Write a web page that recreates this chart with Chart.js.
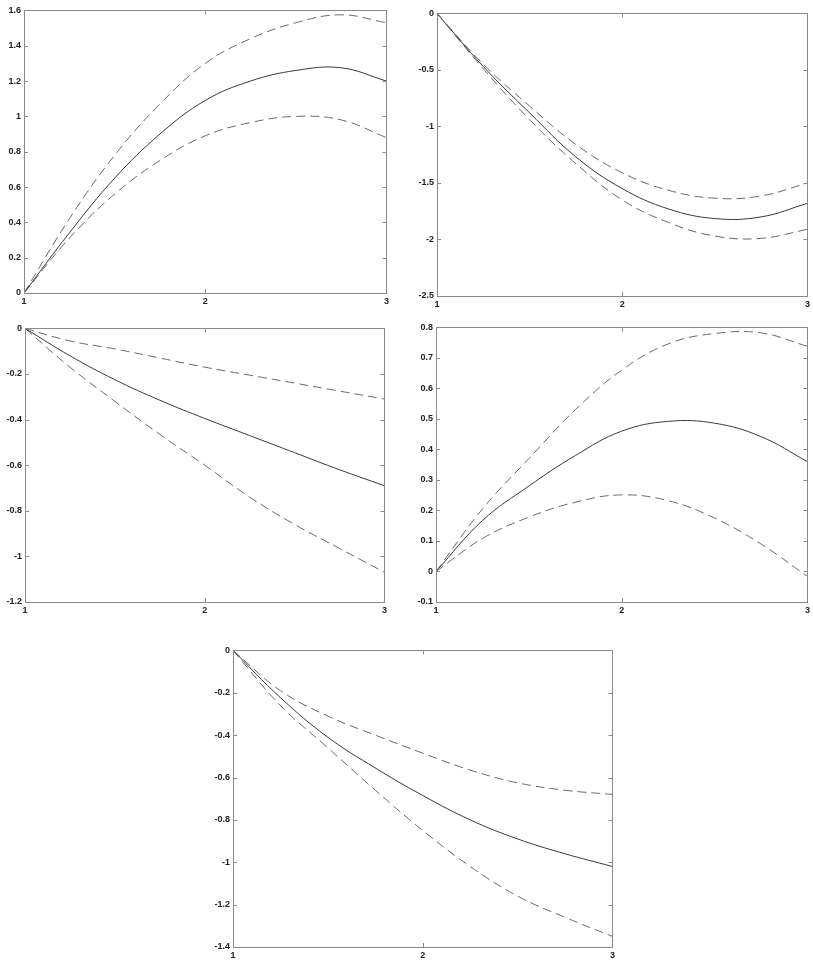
<!DOCTYPE html>
<html>
<head>
<meta charset="utf-8">
<script src="https://cdn.jsdelivr.net/npm/chart.js@4"></script>
<style>
  html, body { margin: 0; padding: 0; background: #fff; overflow: hidden; }
  body { width: 813px; height: 968px; position: relative; }
  .box { position: absolute; }
</style>
</head>
<body>
<div class="box" id="b1"><canvas id="c1"></canvas></div>
<div class="box" id="b2"><canvas id="c2"></canvas></div>
<div class="box" id="b3"><canvas id="c3"></canvas></div>
<div class="box" id="b4"><canvas id="c4"></canvas></div>
<div class="box" id="b5"><canvas id="c5"></canvas></div>
<script>
// x samples shared by every panel
const xs = [1, 1.25, 1.5, 1.75, 2, 2.25, 2.5, 2.75, 3];
const xTicks = [1, 2, 3];

// panel 1 (top left)
const p1Mid = [0, 0.34, 0.65, 0.90, 1.09, 1.20, 1.26, 1.275, 1.20];
const p1Up  = [0, 0.42, 0.78, 1.07, 1.30, 1.44, 1.53, 1.575, 1.53];
const p1Low = [0, 0.31, 0.56, 0.75, 0.89, 0.965, 1.00, 0.98, 0.88];

// panel 2 (top right)
const p2Mid = [0, -0.47, -0.88, -1.27, -1.55, -1.73, -1.815, -1.80, -1.68];
const p2Up  = [0, -0.45, -0.82, -1.16, -1.41, -1.565, -1.635, -1.615, -1.50];
const p2Low = [0, -0.49, -0.94, -1.33, -1.65, -1.85, -1.97, -1.99, -1.91];

// panel 3 (middle left)
const p3Mid = [0, -0.12, -0.225, -0.315, -0.395, -0.47, -0.545, -0.62, -0.69];
const p3Up  = [0, -0.055, -0.09, -0.13, -0.17, -0.205, -0.24, -0.275, -0.31];
const p3Low = [0, -0.17, -0.32, -0.465, -0.60, -0.74, -0.86, -0.965, -1.07];

// panel 4 (middle right)
const p4Mid = [0, 0.167, 0.28, 0.38, 0.46, 0.492, 0.486, 0.442, 0.36];
const p4Up  = [0, 0.205, 0.37, 0.53, 0.66, 0.746, 0.78, 0.782, 0.738];
const p4Low = [0, 0.108, 0.178, 0.227, 0.251, 0.232, 0.175, 0.09, -0.016];

// panel 5 (bottom)
const p5Mid = [0, -0.223, -0.41, -0.555, -0.685, -0.80, -0.89, -0.96, -1.02];
const p5Up  = [0, -0.19, -0.31, -0.40, -0.485, -0.565, -0.625, -0.66, -0.68];
const p5Low = [0, -0.26, -0.46, -0.66, -0.85, -1.02, -1.16, -1.26, -1.35];

// box + inward ticks, gnuplot style
const frame = {
  id: 'frame',
  afterDraw(chart) {
    const { ctx, chartArea: a, scales } = chart;
    ctx.save();
    ctx.strokeStyle = '#8a8a8a';
    ctx.lineWidth = 1;
    ctx.strokeRect(Math.round(a.left) + 0.5, Math.round(a.top) + 0.5,
                   Math.round(a.right - a.left), Math.round(a.bottom - a.top));
    ctx.beginPath();
    scales.y.ticks.forEach(t => {
      const py = Math.round(scales.y.getPixelForValue(t.value)) + 0.5;
      ctx.moveTo(a.left, py); ctx.lineTo(a.left + 4, py);
      ctx.moveTo(a.right, py); ctx.lineTo(a.right - 4, py);
    });
    scales.x.ticks.forEach(t => {
      const px = Math.round(scales.x.getPixelForValue(t.value)) + 0.5;
      ctx.moveTo(px, a.top); ctx.lineTo(px, a.top + 4);
      ctx.moveTo(px, a.bottom); ctx.lineTo(px, a.bottom - 4);
    });
    ctx.stroke();
    ctx.restore();
  }
};

function pts(arr) { return xs.map((x, i) => ({ x: x, y: arr[i] })); }

function line(arr, dashed) {
  return {
    data: pts(arr),
    borderColor: dashed ? '#6a6a6a' : '#3a3a3a',
    borderWidth: 1,
    borderDash: dashed ? [9, 5] : [],
    pointRadius: 0,
    tension: 0.4,
    fill: false
  };
}

const font = { family: 'Liberation Sans, Arial, sans-serif', size: 9, weight: 'bold' };

function panel(id, box, mid, up, low, ymin, ymax, ystep) {
  // box = [left, right, top, bottom] of the plot area in page pixels
  const [L, R, T, B] = box;
  const div = document.getElementById('b' + id);
  div.style.left = (L - 24) + 'px';
  div.style.top = (T - 6) + 'px';
  div.style.width = (R - L + 29) + 'px';
  div.style.height = (B - T + 20) + 'px';

  new Chart(document.getElementById('c' + id), {
    type: 'line',
    data: { datasets: [line(up, true), line(mid, false), line(low, true)] },
    options: {
      responsive: true,
      maintainAspectRatio: false,
      animation: false,
      layout: { padding: { top: 6, right: 5, left: 0, bottom: 0 } },
      plugins: { legend: { display: false }, tooltip: { enabled: false } },
      scales: {
        x: {
          type: 'linear', min: 1, max: 3,
          afterBuildTicks: s => { s.ticks = xTicks.map(v => ({ value: v })); },
          afterFit: s => { s.height = 14; },
          grid: { display: false, drawTicks: false },
          border: { display: false },
          ticks: { font: font, color: '#222', padding: 3, maxRotation: 0 }
        },
        y: {
          min: ymin, max: ymax,
          afterFit: s => { s.width = 24; },
          grid: { display: false, drawTicks: false },
          border: { display: false },
          ticks: {
            stepSize: ystep, font: font, color: '#222', padding: 3,
            callback: v => String(+(+v).toFixed(2))
          }
        }
      }
    },
    plugins: [frame]
  });
}

panel(1, [24, 387, 8, 293], p1Mid, p1Up, p1Low, 0, 1.6, 0.2);
panel(2, [437, 808, 11, 296], p2Mid, p2Up, p2Low, -2.5, 0, 0.5);
panel(3, [25, 385, 326, 602], p3Mid, p3Up, p3Low, -1.2, 0, 0.2);
panel(4, [436, 808, 325, 602], p4Mid, p4Up, p4Low, -0.1, 0.8, 0.1);
panel(5, [233, 613, 648, 947], p5Mid, p5Up, p5Low, -1.4, 0, 0.2);
</script>
</body>
</html>
